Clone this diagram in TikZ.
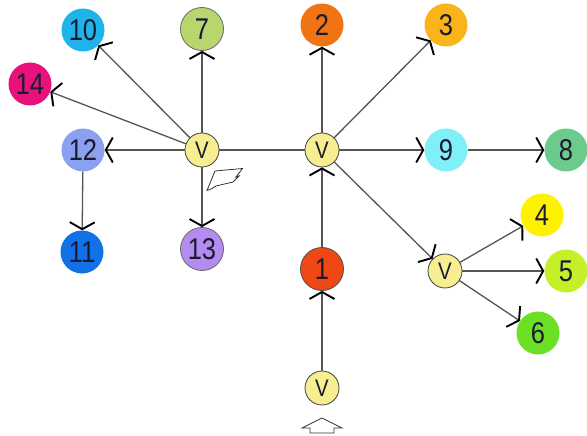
\documentclass[tikz,border=0pt]{standalone}
\usepackage{fontspec}
\newfontfamily\numfont[FakeStretch=0.85]{Liberation Sans}
\usetikzlibrary{arrows.meta}
\definecolor{c10}{HTML}{1EB4EA}
\definecolor{c7}{HTML}{B8D66E}
\definecolor{c14}{HTML}{E8127C}
\definecolor{c12}{HTML}{8CA0F0}
\definecolor{c11}{HTML}{1072E6}
\definecolor{c13}{HTML}{B48CF0}
\definecolor{c2}{HTML}{F07414}
\definecolor{c3}{HTML}{F8B418}
\definecolor{c9}{HTML}{80F0F8}
\definecolor{c8}{HTML}{6CCB8C}
\definecolor{c1}{HTML}{F04814}
\definecolor{c4}{HTML}{FFF200}
\definecolor{c5}{HTML}{C4F028}
\definecolor{c6}{HTML}{6CE024}
\definecolor{cv}{HTML}{F6EE90}
\definecolor{edge}{HTML}{555555}
\definecolor{txt}{HTML}{1A1A30}
\tikzset{
  num/.style={circle, minimum size=43pt, inner sep=0pt, text=txt,
    font=\numfont\fontsize{30}{30}\selectfont},
  ringed/.style={draw=#1, line width=0.8pt},
  vnode/.style={circle, minimum size=34pt, inner sep=0pt, fill=cv, draw=black!75,
    line width=0.8pt, text=txt, font=\numfont\fontsize{24}{24}\selectfont},
  link/.style={draw=edge, line width=1.3pt},
  arr/.style={link, -{Straight Barb[length=7pt,width=25pt,line width=1.9pt,color=black]}},
  outline/.style={draw=black!80, line width=0.8pt, fill=white, line join=miter}
}
\begin{document}
\begin{tikzpicture}[x=1pt,y=-1pt]
\useasboundingbox (0,0) rectangle (587,436);
% nodes
\node[num, fill=c10] (n10) at (83,30) {10};
\node[num, fill=c7, ringed=black!60] (n7) at (202,29) {7};
\node[num, fill=c14] (n14) at (30,84) {14};
\node[num, fill=c12] (n12) at (83,150) {12};
\node[vnode] (vl) at (202,150) {V};
\node[num, fill=c11] (n11) at (82,252) {11};
\node[num, fill=c13, ringed=black!60] (n13) at (202,249) {13};
\node[num, fill=c2] (n2) at (322,25) {2};
\node[num, fill=c3] (n3) at (446,25) {3};
\node[vnode] (vc) at (322,150) {V};
\node[num, fill=c9] (n9) at (446,150) {9};
\node[num, fill=c8] (n8) at (566,150) {8};
\node[num, fill=c1, ringed=black!70] (n1) at (322,269) {1};
\node[vnode] (vr) at (445,271) {V};
\node[num, fill=c4] (n4) at (542,215) {4};
\node[num, fill=c5] (n5) at (566,271) {5};
\node[num, fill=c6] (n6) at (538,333) {6};
\node[vnode] (vb) at (322,388) {V};
% edges
\draw[arr] (vl) -- (n10);
\draw[arr] (vl) -- (n7);
\draw[arr] (vl) -- (n14);
\draw[arr] (vl) -- (n12);
\draw[arr] (vl) -- (n13);
\draw[arr] (n12) -- (n11);
\draw[link] (vl) -- (vc);
\draw[arr] (vc) -- (n2);
\draw[arr] (vc) -- (n3);
\draw[arr] (vc) -- (n9);
\draw[arr] (n9) -- (n8);
\draw[arr] (vc) -- (vr);
\draw[arr] (n1) -- (vc);
\draw[arr] (vb) -- (n1);
\draw[arr] (vr) -- (n4);
\draw[arr] (vr) -- (n5);
\draw[arr] (vr) -- (n6);
% pointer outline
\draw[outline] (207,190.5) -- (215,171) -- (242.5,168.5) -- (236,177) -- (239,176) -- (233,182)
  -- (216,186) -- (212,188.5) -- cycle;
% up arrow outline
\draw[outline] (322,418) -- (342,428) -- (334,428) -- (334,433) -- (310,433) -- (310,428)
  -- (302,428) -- cycle;
\end{tikzpicture}
\end{document}
